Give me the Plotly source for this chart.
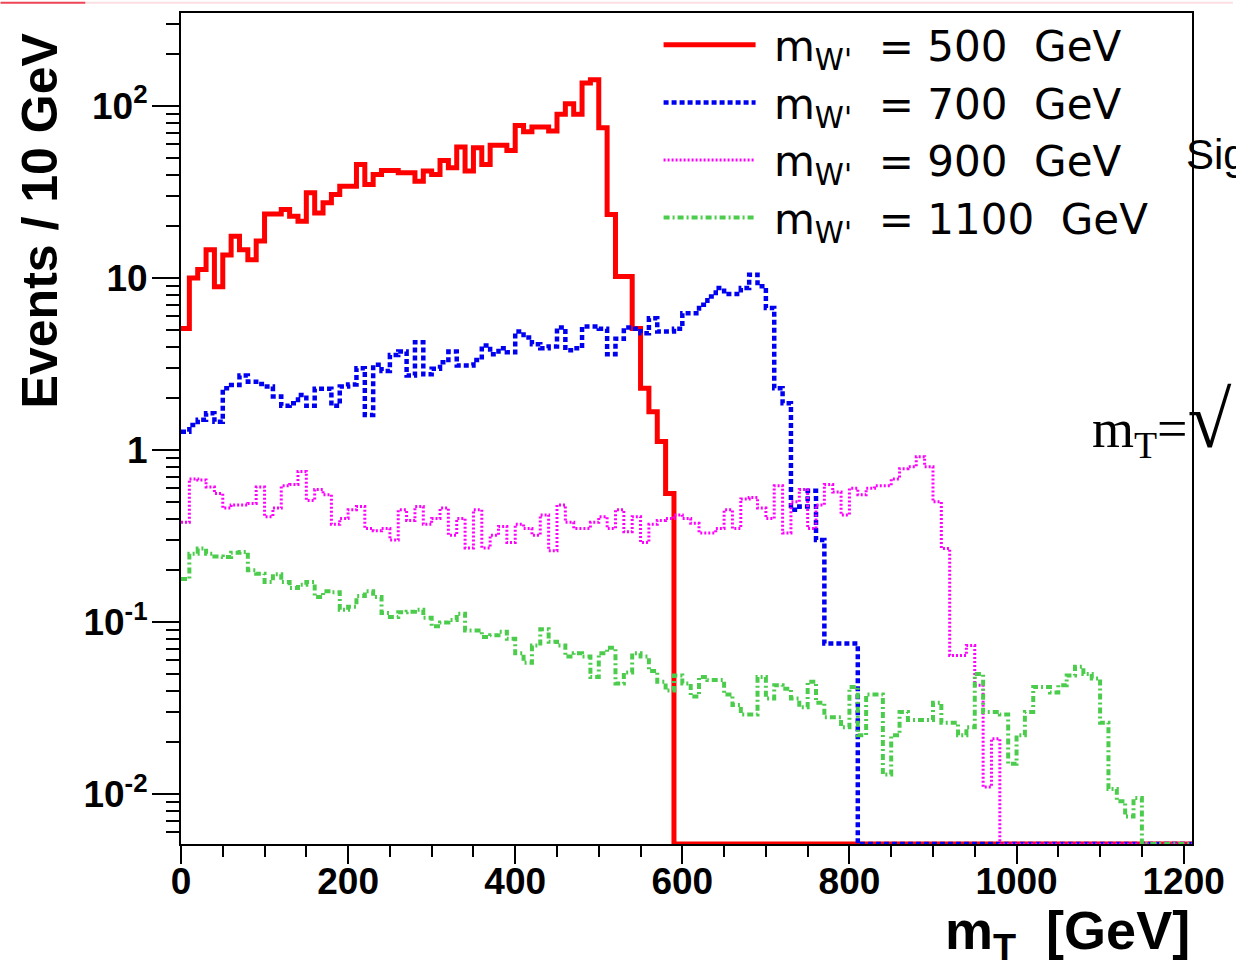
import plotly.graph_objects as go

# ---------------- data (bin contents, 10 GeV bins from 0 to 1210 GeV) ----------------
bin_edges = list(range(0, 1220, 10))  # 122 edges -> 121 bins

red_500 = [5.1, 10.0, 11.2, 14.6, 8.9, 13.6, 17.5, 14.6, 12.8, 16.4,
           23.6, 23.6, 25.0, 22.9, 21.4, 31.3, 23.9, 27.4, 30.6, 34.2,
           34.2, 45.8, 35.0, 40.0, 42.2, 42.2, 40.9, 40.9, 36.6, 41.9,
           40.0, 48.3, 43.8, 57.8, 41.9, 57.3, 45.8, 59.1, 59.1, 55.2,
           77.2, 70.9, 75.5, 75.5, 71.6, 89.5, 103, 89.5, 136, 142,
           74.8, 23.4, 10.2, 10.2, 5.1, 2.29, 1.67, 1.12, 0.56] + [0] * 62

blue_700 = [1.28, 1.40, 1.50, 1.64, 1.46, 2.29, 2.39, 2.71, 2.50, 2.42,
            2.34, 2.05, 1.81, 1.87, 2.09, 1.81, 2.27, 2.27, 1.81, 2.34,
            2.41, 2.99, 1.60, 3.13, 2.88, 3.57, 3.74, 2.71, 4.24, 2.76,
            2.97, 3.24, 3.74, 3.10, 3.10, 3.34, 4.06, 3.61, 3.91, 3.71,
            4.89, 4.51, 4.13, 3.91, 4.00, 5.16, 3.81, 3.91, 5.23, 5.23,
            5.07, 3.61, 4.44, 5.16, 5.07, 4.77, 5.84, 4.89, 4.89, 5.07,
            6.25, 6.25, 7.0, 7.82, 8.75, 8.07, 8.07, 8.75, 10.45, 8.95,
            6.69, 2.29, 1.87, 0.45, 0.47, 0.58, 0.30, 0.075, 0.075, 0.075,
            0.075] + [0] * 40

magenta_900 = [0.38, 0.68, 0.67, 0.61, 0.56, 0.46, 0.48, 0.48, 0.49, 0.61,
               0.41, 0.46, 0.62, 0.63, 0.75, 0.51, 0.59, 0.55, 0.37, 0.40,
               0.45, 0.47, 0.35, 0.34, 0.35, 0.30, 0.45, 0.39, 0.47, 0.37,
               0.40, 0.46, 0.32, 0.40, 0.27, 0.45, 0.27, 0.32, 0.36, 0.29,
               0.37, 0.35, 0.32, 0.42, 0.26, 0.48, 0.38, 0.35, 0.35, 0.38,
               0.41, 0.35, 0.45, 0.335, 0.41, 0.29, 0.37, 0.39, 0.40, 0.42,
               0.40, 0.375, 0.33, 0.33, 0.35, 0.45, 0.35, 0.52, 0.53, 0.46,
               0.40, 0.62, 0.33, 0.50, 0.59, 0.35, 0.48, 0.63, 0.57, 0.42,
               0.60, 0.55, 0.60, 0.62, 0.62, 0.68, 0.78, 0.80, 0.915, 0.80,
               0.50, 0.268, 0.064, 0.064, 0.073, 0.043, 0.011, 0.021] + [0] * 23

green_1100 = [0.178, 0.25, 0.268, 0.25, 0.241, 0.239, 0.253, 0.256, 0.20, 0.191,
              0.171, 0.19, 0.171, 0.158, 0.165, 0.171, 0.140, 0.151, 0.149, 0.118,
              0.123, 0.142, 0.151, 0.14, 0.113, 0.107, 0.114, 0.115, 0.118, 0.106,
              0.0945, 0.0995, 0.103, 0.112, 0.0895, 0.0895, 0.082, 0.0838, 0.088, 0.080,
              0.066, 0.058, 0.073, 0.091, 0.077, 0.073, 0.063, 0.066, 0.063, 0.048,
              0.066, 0.071, 0.044, 0.051, 0.066, 0.063, 0.052, 0.045, 0.040, 0.049,
              0.044, 0.037, 0.048, 0.046, 0.046, 0.038, 0.033, 0.029, 0.029, 0.048,
              0.036, 0.043, 0.041, 0.036, 0.032, 0.045, 0.034, 0.028, 0.028, 0.0245,
              0.042, 0.022, 0.038, 0.038, 0.013, 0.022, 0.030, 0.027, 0.027, 0.027,
              0.034, 0.026, 0.026, 0.022, 0.0245, 0.050, 0.030, 0.030, 0.029, 0.015,
              0.022, 0.030, 0.042, 0.042, 0.039, 0.043, 0.049, 0.055, 0.050, 0.047,
              0.026, 0.0107, 0.0091, 0.0074, 0.0095] + [0] * 6

series_names = ["\u00a0m<sub>W'</sub>\u00a0\u00a0= 500\u00a0\u00a0GeV",
                "\u00a0m<sub>W'</sub>\u00a0\u00a0= 700\u00a0\u00a0GeV",
                "\u00a0m<sub>W'</sub>\u00a0\u00a0= 900\u00a0\u00a0GeV",
                "\u00a0m<sub>W'</sub>\u00a0\u00a0= 1100\u00a0\u00a0GeV"]

x_ticks = [0, 200, 400, 600, 800, 1000, 1200]
y_ticks = [0.01, 0.1, 1, 10, 100]
y_tick_text = ["10<sup>-2</sup>", "10<sup>-1</sup>", "1", "10", "10<sup>2</sup>"]

# ---------------- figure ----------------
Y_LOG_MIN, Y_LOG_MAX = -2.29, 2.541
Y_FLOOR = 10 ** Y_LOG_MIN

W, H = 1236, 962
ML, MR, MT, MB = 181, 41, 11, 118
PW, PH = W - ML - MR, H - MT - MB


def px(xp):
    return (xp - ML) / PW


def py(yp):
    return (H - MB - yp) / PH


def step(vals):
    y = [v if v > 0 else Y_FLOOR for v in vals]
    return bin_edges, y + [y[-1]]


styles = [
    dict(color="#ff0000", width=5, dash="solid"),
    dict(color="#0000f0", width=4.5, dash="5px,3px"),
    dict(color="#ff00ff", width=3, dash="2px,2px"),
    dict(color="#4ccc4c", width=4, dash="6px,3px,2px,3px"),
]

fig = go.Figure()
for vals, name, st in zip([red_500, blue_700, magenta_900, green_1100], series_names, styles):
    xs, ys = step(vals)
    fig.add_trace(go.Scatter(x=xs, y=ys, mode="lines", name=name,
                             line=dict(shape="hv", **st)))

# minor tick values for the log axis
minor_y = []
for k in range(-3, 3):
    for m in range(2, 10):
        v = m * 10 ** k
        if 10 ** Y_LOG_MIN < v < 10 ** Y_LOG_MAX:
            minor_y.append(v)

tick_font = dict(family="Liberation Sans, Arial", size=37, color="black", weight="bold")

fig.update_layout(
    width=W, height=H,
    margin=dict(l=ML, r=MR, t=MT, b=MB),
    plot_bgcolor="white", paper_bgcolor="white",
    showlegend=True,
    legend=dict(x=px(660), y=py(9), xanchor="left", yanchor="top",
                bgcolor="rgba(0,0,0,0)", borderwidth=0,
                font=dict(family="DejaVu Sans, Liberation Sans, Arial", size=42, color="black"),
                itemwidth=92, tracegroupgap=0),
    xaxis=dict(range=[0, 1210], tickvals=x_ticks, ticks="outside", ticklen=18,
               tickwidth=2, tickcolor="black", showline=True, linewidth=2,
               linecolor="black", mirror=True, showgrid=False, zeroline=False,
               tickfont=tick_font, ticklabelstandoff=-14,
               minor=dict(dtick=50, ticks="outside", ticklen=11, tickwidth=2,
                          tickcolor="black", showgrid=False)),
    yaxis=dict(type="log", range=[Y_LOG_MIN, Y_LOG_MAX], tickvals=y_ticks,
               ticktext=y_tick_text, ticks="outside", ticklen=27, tickwidth=2,
               tickcolor="black", showline=True, linewidth=2, linecolor="black",
               mirror=True, showgrid=False, zeroline=False, tickfont=tick_font,
               ticklabelstandoff=-3,
               minor=dict(tickvals=minor_y, ticks="outside", ticklen=13,
                          tickwidth=2, tickcolor="black", showgrid=False)),
)

fig.add_annotation(text="Events / 10 GeV", textangle=-90, xref="paper", yref="paper",
                   x=px(40), y=py(28), xanchor="center", yanchor="top",
                   showarrow=False,
                   font=dict(family="Liberation Sans, Arial", size=50, color="black",
                             weight="bold"))
fig.add_annotation(text="m<sub>T</sub>  [GeV]", xref="paper", yref="paper",
                   x=1.0, y=py(934), xanchor="right", yanchor="middle",
                   showarrow=False,
                   font=dict(family="Liberation Sans, Arial", size=54, color="black",
                             weight="bold"))
fig.add_annotation(text="Sig", xref="paper", yref="paper", x=px(1187), y=py(153),
                   xanchor="left", yanchor="middle", showarrow=False,
                   font=dict(family="Liberation Sans, Arial", size=42, color="black"))
fig.add_annotation(text="m<sub>T</sub>=<span style='font-size:80px'>√</span>",
                   xref="paper", yref="paper", x=px(1093),
                   y=py(420), xanchor="left", yanchor="middle", showarrow=False,
                   font=dict(family="Liberation Serif, Times New Roman, serif",
                             size=54, color="black"))

# slide artefact at the very top
fig.add_shape(type="line", xref="paper", yref="paper", x0=px(85), x1=px(1236),
              y0=py(0.8), y1=py(0.8), line=dict(color="#fbdfe2", width=2))
fig.add_shape(type="line", xref="paper", yref="paper", x0=px(0), x1=px(85),
              y0=py(0.8), y1=py(0.8), line=dict(color="#ee4455", width=2))

fig.write_html("out.html", config={"displayModeBar": False},
               post_script="document.body.style.margin='0px';")
